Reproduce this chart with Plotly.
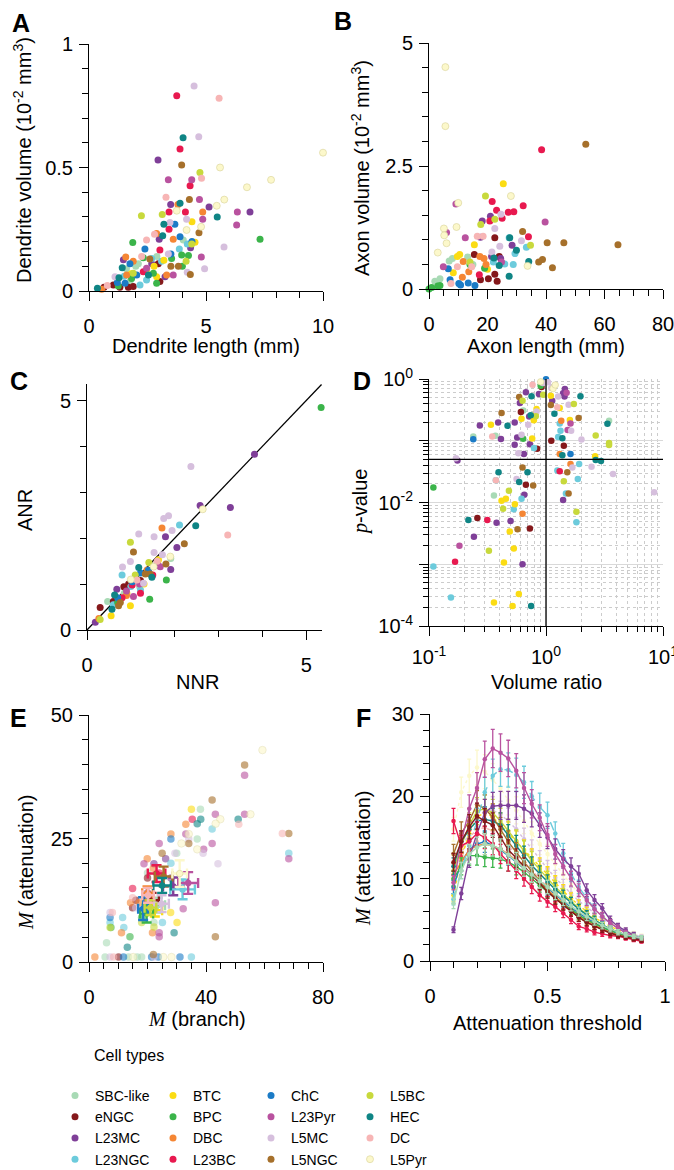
import plotly.graph_objects as go

W, H = 674, 1170
FONT = "Liberation Sans, Arial, Helvetica, sans-serif"
SERIF = "Liberation Serif, Times New Roman, serif"

# ---------------- cell types (legend order, column-major) ----------------
TYPES = ["SBC-like", "eNGC", "L23MC", "L23NGC",
         "BTC", "BPC", "DBC", "L23BC",
         "ChC", "L23Pyr", "L5MC", "L5NGC",
         "L5BC", "HEC", "DC", "L5Pyr"]
COLORS = {"SBC-like": "#a8dab5", "eNGC": "#85181b", "L23MC": "#7f3f98", "L23NGC": "#6ccbdc",
          "BTC": "#fbdc13", "BPC": "#3bb44a", "DBC": "#f58634", "L23BC": "#e8194f",
          "ChC": "#1b7bc6", "L23Pyr": "#b9529f", "L5MC": "#d6bfdd", "L5NGC": "#a6702b",
          "L5BC": "#c8d93c", "HEC": "#0f8585", "DC": "#f7b5b5", "L5Pyr": "#fcf8cb"}

# ---------------- Panel A: dendrite length (mm) vs dendrite volume ----------------
A_PTS = {
    "SBC-like": [(2.0, 0.10), (1.75, 0.038), (2.11, 0.11), (4.03, 0.206), (2.9, 0.14), (1.6, 0.09)],
    "eNGC": [(0.64, 0.015), (1.04, 0.024), (1.68, 0.015), (1.89, 0.018), (1.32, 0.015), (3.03, 0.038), (2.96, 0.11)],
    "L23MC": [(2.95, 0.53), (3.49, 0.35), (5.13, 0.34), (6.88, 0.32), (3.0, 0.21), (4.34, 0.175), (1.47, 0.127), (2.68, 0.11), (3.25, 0.058)],
    "L23NGC": [(3.86, 0.17), (2.46, 0.045), (2.18, 0.024), (2.68, 0.132), (4.2, 0.19), (1.5, 0.06), (3.1, 0.12)],
    "BTC": [(4.53, 0.197), (2.78, 0.10), (3.2, 0.125), (2.89, 0.058), (2.46, 0.085), (4.4, 0.28), (1.8, 0.07)],
    "BPC": [(1.87, 0.196), (7.31, 0.21), (3.53, 0.132), (4.25, 0.144), (3.99, 0.10), (2.32, 0.135), (2.75, 0.072), (2.89, 0.031), (1.25, 0.02), (1.82, 0.051), (3.96, 0.146)],
    "DBC": [(4.86, 0.32), (2.89, 0.233), (3.6, 0.21), (1.57, 0.138), (1.89, 0.12), (0.54, 0.007), (1.61, 0.065), (3.32, 0.065), (3.8, 0.35)],
    "L23BC": [(3.75, 0.79), (3.89, 0.575), (4.32, 0.426), (3.42, 0.32), (4.12, 0.32), (3.42, 0.25), (2.32, 0.078), (3.03, 0.166)],
    "ChC": [(3.67, 0.27), (3.89, 0.22), (4.4, 0.20), (2.39, 0.17), (1.75, 0.11), (2.04, 0.065), (1.21, 0.034), (1.54, 0.031), (3.5, 0.15)],
    "L23Pyr": [(3.39, 0.45), (4.39, 0.45), (4.72, 0.37), (4.86, 0.29), (6.34, 0.32), (6.31, 0.267), (4.8, 0.138), (2.46, 0.092), (3.6, 0.065)],
    "L5MC": [(4.49, 0.83), (4.69, 0.625), (3.46, 0.277), (4.17, 0.29), (5.77, 0.178), (4.94, 0.09), (4.2, 0.076), (3.39, 0.15), (1.11, 0.058)],
    "L5NGC": [(3.96, 0.51), (4.29, 0.37), (4.7, 0.236), (3.82, 0.10), (3.5, 0.10), (4.33, 0.067), (2.6, 0.13)],
    "L5BC": [(4.74, 0.48), (2.24, 0.305), (3.13, 0.31), (4.15, 0.12), (1.89, 0.072), (4.39, 0.19)],
    "HEC": [(4.02, 0.62), (3.89, 0.355), (5.48, 0.30), (3.2, 0.27), (3.15, 0.224), (1.42, 0.094), (2.54, 0.065), (0.36, 0.011), (1.28, 0.054)],
    "DC": [(5.56, 0.78), (4.81, 0.456), (3.29, 0.38), (2.46, 0.206), (2.25, 0.14), (0.78, 0.022), (2.8, 0.23)],
    "L5Pyr": [(10.0, 0.56), (5.6, 0.50), (7.78, 0.45), (6.75, 0.42), (5.46, 0.345), (5.78, 0.37), (3.75, 0.325), (4.79, 0.26), (4.17, 0.247)],
}

# ---------------- Panel B: axon length (mm) vs axon volume ----------------
B_PTS = {
    "SBC-like": [(6.9, 0.57), (13.2, 0.65), (2.0, 0.16), (3.75, 0.21), (8.0, 0.62), (15.0, 0.5)],
    "eNGC": [(22.5, 1.04), (15.5, 0.70), (17.6, 0.19), (20.3, 0.21), (23.3, 0.16), (22.5, 0.30), (24.0, 0.66)],
    "L23MC": [(21.0, 1.48), (18.2, 1.38), (28.4, 0.89), (21.4, 0.66), (17.6, 1.05), (24.5, 0.62)],
    "L23NGC": [(27.4, 1.04), (33.3, 0.85), (29.4, 0.72), (28.8, 0.50), (25.9, 0.51), (22.0, 0.55)],
    "BTC": [(25.4, 2.14), (15.5, 0.90), (9.7, 0.66), (8.3, 0.33), (10.5, 0.70), (20.0, 0.40)],
    "BPC": [(3.0, 0.06), (0.0, 0.0), (0.9, 0.03), (3.75, 0.07), (19.0, 0.42), (14.0, 0.5)],
    "DBC": [(17.4, 0.66), (18.8, 0.62), (11.7, 0.56), (11.4, 0.24), (19.5, 0.5), (13.6, 0.35)],
    "L23BC": [(38.5, 2.83), (21.6, 1.78), (32.2, 1.69), (23.1, 1.6), (27.1, 1.56), (29.0, 1.57), (25.0, 1.44), (20.8, 1.38), (34.0, 1.06), (17.2, 0.29)],
    "ChC": [(6.6, 0.41), (10.2, 0.11), (13.4, 0.12), (15.7, 0.07), (7.2, 0.19), (10.8, 0.08)],
    "L23Pyr": [(9.2, 1.73), (39.7, 1.36), (6.0, 1.15), (12.4, 1.04), (4.9, 0.45), (24.8, 0.55)],
    "L5MC": [(24.6, 1.52), (22.5, 1.23), (31.6, 0.98), (24.2, 0.87), (21.5, 0.75)],
    "L5NGC": [(53.6, 2.94), (32.0, 1.17), (40.4, 0.94), (46.1, 0.94), (64.6, 0.90), (38.8, 0.60), (37.5, 0.55), (42.2, 0.43)],
    "L5BC": [(19.3, 1.89), (22.5, 1.42), (17.7, 1.31), (34.7, 0.89), (14.0, 0.55)],
    "HEC": [(27.6, 1.04), (29.9, 0.79), (34.1, 0.56), (22.2, 0.63), (27.4, 0.26), (24.0, 0.48)],
    "DC": [(16.5, 1.07), (18.5, 1.07), (9.7, 0.45), (14.6, 0.45), (7.5, 0.11)],
    "L5Pyr": [(5.6, 4.51), (5.6, 3.31), (28.0, 1.89), (10.0, 1.75), (5.1, 1.23), (9.4, 1.26), (5.2, 1.09), (6.0, 0.93), (3.0, 0.74), (33.7, 0.47)],
}

# ---------------- Panel C: NNR vs ANR ----------------
C_PTS = {
    "SBC-like": [(1.91, 1.56), (0.47, 0.62), (1.2, 0.95), (0.85, 0.8)],
    "eNGC": [(1.22, 1.08), (0.84, 0.94), (0.30, 0.49), (0.95, 1.0), (0.6, 0.62)],
    "L23MC": [(3.82, 3.83), (2.58, 2.71), (3.27, 2.67), (1.79, 2.03), (2.05, 1.80), (1.91, 1.32), (0.68, 0.89), (0.19, 0.17), (1.6, 1.45)],
    "L23NGC": [(2.11, 2.29), (0.80, 1.20), (1.22, 0.87), (1.0, 0.95), (0.6, 0.55)],
    "BTC": [(1.63, 1.53), (0.99, 0.53), (0.55, 0.31), (0.91, 0.8), (1.3, 1.0)],
    "BPC": [(5.34, 4.85), (1.81, 1.09), (1.43, 0.67), (0.7, 0.6)],
    "DBC": [(1.71, 2.22), (0.27, 0.25), (1.37, 1.31), (0.9, 0.75)],
    "L23BC": [(1.03, 0.98), (1.22, 0.8), (0.8, 0.7), (1.5, 1.2)],
    "ChC": [(1.03, 1.05), (1.22, 1.24), (0.7, 0.7), (1.4, 1.3)],
    "L23Pyr": [(1.06, 0.73), (1.67, 1.38), (1.2, 1.0), (0.9, 0.85)],
    "L5MC": [(2.37, 3.56), (1.86, 2.49), (1.75, 2.43), (1.18, 2.09), (1.53, 2.03), (1.94, 2.17), (1.53, 1.69), (1.72, 1.64), (0.99, 1.49), (0.81, 1.37), (1.29, 1.02)],
    "L5NGC": [(2.22, 1.88), (1.06, 1.70), (1.80, 1.44), (1.33, 1.22), (1.44, 1.22), (0.76, 0.6), (0.72, 0.53)],
    "L5BC": [(0.99, 1.91), (1.41, 1.47), (0.30, 0.23), (1.1, 1.2)],
    "HEC": [(2.48, 2.27), (1.18, 1.36), (1.48, 1.15), (0.63, 0.76), (0.57, 0.45)],
    "DC": [(3.21, 2.07), (1.14, 1.09), (1.6, 1.5)],
    "L5Pyr": [(2.64, 2.63), (1.52, 1.38), (1.9, 1.6), (1.0, 1.1)],
}
IDENTITY_LINE = [0, 5.35]

# ---------------- Panel D: volume ratio vs p-value ----------------
D_PTS = {
    "SBC-like": [(0.37, 0.12), (0.359, 0.013), (0.64, 0.31), (3.46, 0.21), (0.239, 0.117)],
    "eNGC": [(0.259, 0.0056), (0.728, 0.0038), (0.673, 0.0193), (0.61, 0.292), (0.84, 0.074), (0.916, 0.741), (1.11, 0.1), (1.42, 0.083)],
    "L23MC": [(0.175, 0.048), (0.242, 0.0028), (0.378, 0.0047), (0.498, 0.005), (0.63, 0.001), (0.652, 0.0133), (0.412, 0.107), (0.272, 0.177), (0.39, 0.198), (0.54, 0.198), (0.567, 0.113), (0.54, 0.086), (0.728, 0.088), (0.647, 0.061), (0.718, 0.248), (0.598, 0.408), (0.673, 0.608), (0.87, 0.571), (1.13, 0.445), (1.4, 0.59), (1.45, 0.69), (1.44, 0.52), (1.4, 0.011)],
    "L23NGC": [(0.109, 0.00092), (0.154, 0.00029), (0.53, 0.0078), (0.618, 0.0115), (0.373, 0.023), (0.79, 0.076), (1.31, 0.19), (1.33, 0.145), (1.27, 0.115), (1.92, 0.042), (1.25, 0.033), (1.87, 0.024), (1.48, 0.014), (1.82, 0.0048)],
    "BTC": [(0.359, 0.00024), (0.437, 0.00107), (0.518, 0.00021), (0.586, 0.00033), (0.531, 0.0018), (0.49, 0.0034), (0.417, 0.0107), (0.454, 0.0115), (0.542, 0.0094), (0.338, 0.182), (0.618, 0.227), (0.762, 0.109), (0.787, 0.214), (0.818, 0.274), (0.83, 0.326), (1.1, 0.537), (1.31, 0.339), (1.6, 0.216), (2.63, 0.056)],
    "BPC": [(0.109, 0.0175), (0.638, 0.108), (0.9, 0.78)],
    "DBC": [(0.63, 0.0066), (1.35, 0.21), (1.62, 0.042), (1.31, 0.061)],
    "L23BC": [(0.167, 0.0011), (0.315, 0.0052), (1.31, 0.032)],
    "ChC": [(0.239, 0.106), (1.0, 0.99), (1.62, 0.061)],
    "L23Pyr": [(0.182, 0.002), (1.62, 0.19), (1.53, 0.15), (1.5, 0.6)],
    "L5MC": [(8.4, 0.0147), (0.17, 0.052), (0.56, 0.024), (0.618, 0.125), (0.58, 0.063), (0.705, 0.182), (0.83, 0.299), (0.94, 0.86), (1.04, 0.89), (1.11, 0.715), (1.27, 0.52), (1.56, 0.384), (1.64, 0.145), (2.01, 0.105), (1.68, 0.037), (2.45, 0.038), (3.74, 0.029)],
    "L5NGC": [(0.571, 0.0037), (0.777, 0.0189), (0.63, 0.037), (0.417, 0.281), (0.59, 0.51), (1.1, 0.38), (1.9, 0.233), (1.52, 0.031), (1.56, 0.014)],
    "L5BC": [(0.325, 0.00165), (0.43, 0.0079), (0.482, 0.0155), (0.63, 0.446), (0.818, 0.25), (0.946, 0.557), (1.73, 0.394), (2.66, 0.122), (3.46, 0.092), (3.46, 0.085), (1.42, 0.022), (1.82, 0.0071)],
    "HEC": [(0.217, 0.0052), (0.746, 0.00021), (0.393, 0.031), (0.59, 0.0214), (0.695, 0.031), (0.469, 0.175), (0.74, 0.26), (0.752, 0.524), (1.18, 0.274), (1.97, 0.524), (3.35, 0.189), (1.38, 0.11), (1.38, 0.058), (2.66, 0.049), (2.95, 0.047)],
    "DC": [(0.347, 0.117), (0.373, 0.023), (0.767, 0.81), (1.25, 0.35)],
    "L5Pyr": [(0.9, 0.9), (1.15, 0.7), (1.2, 0.8)],
}
P_THRESHOLD = 0.05
RATIO_EQUAL = 1.0

# ---------------- Panel E: M(branch) vs M(attenuation) ----------------
E_PTS = {
    "SBC-like": [(38.1, 30.9), (37.0, 24.9), (6.0, 3.9), (22.2, 8.0), (5.5, 1), (13.5, 1), (16.5, 1), (18.0, 1), (20.0, 18.0), (30.0, 22.0)],
    "eNGC": [(14.9, 11.0), (10.1, 1), (20.0, 17.0), (16.0, 12.5)],
    "L23MC": [(26.2, 20.9), (22.2, 19.9), (28.0, 17.0), (20.0, 14.0)],
    "L23NGC": [(42.1, 26.9), (68.3, 22.0), (25.1, 8.0), (7.2, 8.0), (11.5, 9.0), (11.9, 7.0), (35.0, 1), (28.0, 20.0)],
    "BTC": [(35.0, 30.9), (27.9, 10.0), (30.1, 8.0), (20.0, 12.0)],
    "BPC": [(14.0, 5.1), (7.5, 7.0), (18.0, 9.0)],
    "DBC": [(33.1, 27.9), (28.0, 25.9), (19.9, 20.9), (21.7, 5.9), (11.1, 5.9), (14.2, 12.0), (17.1, 12.0), (2.0, 1), (22.0, 19.0)],
    "L23BC": [(35.3, 28.9), (14.9, 14.9), (24.0, 18.0)],
    "ChC": [(28.0, 24.9), (11.8, 1), (21.4, 1), (23.7, 1), (31.1, 1), (7.2, 9.0)],
    "L23Pyr": [(53.2, 37.8), (43.2, 29.9), (53.2, 29.9), (68.3, 20.9), (42.1, 24.0), (43.2, 12.0), (33.1, 25.9), (24.0, 24.0), (39.2, 22.8), (18.8, 19.9), (32.2, 10.8), (24.0, 5.9), (24.0, 5.1)],
    "L5MC": [(44.1, 19.9), (34.1, 24.9), (39.0, 22.0), (29.4, 22.0), (7.2, 10.0), (7.2, 1), (22.2, 1), (16.0, 11.0)],
    "L5NGC": [(53.2, 39.9), (42.1, 32.8), (68.3, 26.0), (43.2, 5.1), (34.1, 24.0), (25.0, 22.0), (22.0, 1.5)],
    "L5BC": [(22.2, 7.1), (7.2, 7.0), (18.0, 8.0)],
    "HEC": [(51.0, 28.9), (38.2, 28.9), (37.0, 28.0), (29.1, 5.9), (13.1, 3.0)],
    "DC": [(51.2, 27.9), (66.1, 26.0), (14.9, 13.0), (8.4, 1), (8.0, 10.0)],
    "L5Pyr": [(59.3, 42.9), (55.2, 29.9), (44.9, 28.9), (43.3, 28.0), (34.1, 25.9), (31.6, 24.0), (37.0, 22.8), (15.1, 1), (25.4, 1), (28.2, 1)],
}
# type means (x, y) and SEM (x, y)
E_MEAN = {"SBC-like": (23.5, 11.5), "eNGC": (21.4, 12.5), "L23MC": (28.8, 15.3), "L23NGC": (32.0, 14.7),
          "BTC": (22.5, 10.5), "BPC": (19.7, 9.8), "DBC": (20.0, 13.9), "L23BC": (23.1, 17.9),
          "ChC": (18.5, 10.8), "L23Pyr": (33.9, 16.0), "L5MC": (24.8, 11.8), "L5NGC": (25.5, 17.3),
          "L5BC": (21.0, 11.0), "HEC": (25.0, 15.5), "DC": (20.2, 13.5), "L5Pyr": (31.0, 17.9)}
E_SEM = {"SBC-like": (2.5, 1.5), "eNGC": (2.5, 1.5), "L23MC": (3.5, 1.8), "L23NGC": (4.2, 2.0),
         "BTC": (2.5, 1.3), "BPC": (2.2, 1.8), "DBC": (1.8, 1.4), "L23BC": (3.0, 1.7),
         "ChC": (1.7, 2.3), "L23Pyr": (3.4, 2.2), "L5MC": (2.5, 1.7), "L5NGC": (3.0, 2.0),
         "L5BC": (2.0, 1.5), "HEC": (3.0, 1.5), "DC": (2.0, 1.5), "L5Pyr": (2.5, 2.7)}

# ---------------- Panel F: attenuation threshold vs M(attenuation) ----------------
THRESH = [0.1, 0.133, 0.167, 0.2, 0.233, 0.267, 0.3, 0.333, 0.367, 0.4, 0.433, 0.467, 0.5,
          0.533, 0.567, 0.6, 0.633, 0.667, 0.7, 0.733, 0.767, 0.8, 0.833, 0.867, 0.9]
F_M = {
    "L5Pyr": [16.0, 20.5, 22.5, 23.5, 23.0, 22.0, 21.0, 19.5, 18.3, 17.0, 15.5, 14.2, 13.0, 11.8, 10.5, 9.3, 8.2, 7.2, 6.3, 5.5, 4.8, 4.2, 3.7, 3.3, 3.0],
    "L5MC": [9.0, 13.0, 16.0, 18.0, 18.5, 18.3, 17.8, 17.0, 16.0, 14.8, 13.5, 12.3, 11.2, 10.1, 9.1, 8.2, 7.3, 6.5, 5.8, 5.1, 4.5, 4.0, 3.6, 3.2, 2.9],
    "DC": [10.0, 13.0, 15.0, 16.0, 16.2, 15.8, 15.0, 14.0, 13.0, 12.0, 11.0, 10.0, 9.0, 8.1, 7.3, 6.5, 5.8, 5.1, 4.5, 4.0, 3.6, 3.3, 3.0, 2.8, 2.6],
    "BTC": [8.0, 12.5, 15.5, 17.5, 18.0, 17.5, 16.5, 15.5, 14.5, 13.5, 12.5, 11.5, 10.5, 9.5, 8.5, 7.6, 6.8, 6.0, 5.3, 4.7, 4.2, 3.8, 3.4, 3.1, 2.8],
    "L5BC": [11.0, 14.0, 16.5, 18.2, 18.5, 18.0, 17.0, 15.8, 14.6, 13.4, 12.2, 11.1, 10.0, 9.0, 8.1, 7.2, 6.4, 5.7, 5.0, 4.4, 3.9, 3.5, 3.2, 2.9, 2.7],
    "ChC": [9.0, 12.0, 13.5, 14.2, 14.5, 14.0, 13.5, 12.8, 12.0, 11.2, 10.4, 9.6, 8.8, 8.0, 7.2, 6.5, 5.8, 5.2, 4.6, 4.1, 3.7, 3.3, 3.0, 2.8, 2.6],
    "DBC": [10.5, 12.0, 13.5, 14.0, 14.2, 14.0, 13.6, 13.0, 12.2, 11.3, 10.4, 9.5, 8.6, 7.8, 7.0, 6.2, 5.5, 4.9, 4.4, 3.9, 3.5, 3.2, 2.9, 2.7, 2.5],
    "BPC": [10.0, 11.5, 12.8, 12.8, 12.6, 12.5, 12.4, 12.0, 11.5, 10.8, 10.0, 9.2, 8.4, 7.6, 6.9, 6.2, 5.6, 5.0, 4.5, 4.1, 3.7, 3.4, 3.1, 2.9, 2.7],
    "HEC": [11.5, 14.5, 16.0, 17.0, 17.2, 17.0, 16.5, 15.2, 14.0, 12.8, 11.6, 10.6, 9.6, 8.7, 7.9, 7.1, 6.3, 5.6, 5.0, 4.4, 3.9, 3.5, 3.2, 2.9, 2.7],
    "L5NGC": [13.0, 15.5, 17.0, 19.0, 18.5, 17.5, 16.0, 14.5, 13.2, 12.0, 10.8, 9.7, 8.6, 7.6, 6.8, 6.0, 5.3, 4.7, 4.2, 3.8, 3.4, 3.1, 2.9, 2.7, 2.5],
    "L23NGC": [7.5, 11.0, 14.0, 17.0, 20.5, 22.5, 23.3, 23.2, 22.6, 21.7, 20.0, 18.7, 17.7, 15.5, 13.1, 10.6, 9.0, 7.6, 6.4, 5.4, 4.6, 4.0, 3.5, 3.1, 2.8],
    "L23MC": [3.8, 8.2, 12.5, 15.5, 18.0, 18.8, 18.9, 18.9, 18.9, 18.5, 17.9, 16.5, 15.0, 13.6, 12.4, 11.5, 10.6, 8.6, 7.4, 6.4, 5.0, 4.2, 3.7, 3.2, 2.6],
    "L23Pyr": [9.5, 14.5, 18.5, 21.0, 24.5, 25.8, 25.3, 24.6, 23.1, 21.0, 19.1, 17.4, 15.3, 13.0, 11.5, 10.0, 8.6, 7.4, 6.3, 5.4, 4.6, 4.0, 3.4, 3.0, 2.7],
    "L23BC": [17.0, 14.0, 14.5, 15.5, 15.0, 14.2, 13.0, 12.0, 11.0, 10.0, 9.0, 8.0, 7.2, 6.6, 5.8, 5.0, 4.2, 3.9, 3.5, 3.3, 3.1, 3.0, 2.8, 2.6, 2.4],
    "eNGC": [12.0, 14.5, 16.3, 17.6, 17.0, 16.5, 15.0, 13.5, 12.5, 11.5, 10.5, 9.5, 8.4, 7.6, 6.8, 6.0, 5.3, 4.7, 4.2, 3.8, 3.4, 3.1, 2.9, 2.7, 2.5],
    "SBC-like": [7.0, 11.0, 13.0, 13.8, 14.2, 14.0, 13.6, 12.9, 12.1, 11.3, 10.5, 9.7, 9.0, 8.2, 7.4, 6.7, 6.0, 5.4, 4.8, 4.3, 3.9, 3.5, 3.2, 3.0, 2.8],
}
F_ERR_PCT = 9
F_DASH = {"L23NGC": "dash", "L5Pyr": "dot", "BTC": "dot", "L5MC": "dot", "DC": "dot"}

# =====================================================================
def xp(px):
    return px / W


def yp(py):
    return 1 - py / H


def mk(t, size=7, opacity=1.0):
    return dict(size=size, color=COLORS[t], opacity=opacity,
                line=dict(width=0.7 if t == "L5Pyr" else 0, color="#dcd7a0"))


LEGS = ["legend", "legend2", "legend3", "legend4"]
fig = go.Figure()

# Panel A (legend source)
for i, t in enumerate(TYPES):
    pts = A_PTS[t]
    fig.add_trace(go.Scatter(x=[p[0] for p in pts], y=[p[1] for p in pts], mode="markers",
                             marker=mk(t), name=t, legend=LEGS[i // 4], legendgroup=t,
                             showlegend=True, xaxis="x", yaxis="y", cliponaxis=False))

# Panel B
for t in TYPES:
    pts = B_PTS[t]
    fig.add_trace(go.Scatter(x=[p[0] for p in pts], y=[p[1] for p in pts], mode="markers",
                             marker=mk(t), name=t, legendgroup=t, showlegend=False,
                             xaxis="x2", yaxis="y2", cliponaxis=False))

# Panel C
fig.add_trace(go.Scatter(x=IDENTITY_LINE, y=IDENTITY_LINE, mode="lines",
                         line=dict(color="black", width=1.3), showlegend=False,
                         xaxis="x3", yaxis="y3", cliponaxis=False, hoverinfo="skip"))
for t in TYPES:
    pts = C_PTS[t]
    fig.add_trace(go.Scatter(x=[p[0] for p in pts], y=[p[1] for p in pts], mode="markers",
                             marker=mk(t), name=t, legendgroup=t, showlegend=False,
                             xaxis="x3", yaxis="y3", cliponaxis=False))

# Panel D
for t in TYPES:
    pts = D_PTS[t]
    fig.add_trace(go.Scatter(x=[p[0] for p in pts], y=[p[1] for p in pts], mode="markers",
                             marker=mk(t, size=6.5), name=t, legendgroup=t, showlegend=False,
                             xaxis="x4", yaxis="y4", cliponaxis=False))
fig.add_trace(go.Scatter(x=[0.1, 10], y=[P_THRESHOLD, P_THRESHOLD], mode="lines",
                         line=dict(color="black", width=1.3), showlegend=False,
                         xaxis="x4", yaxis="y4", hoverinfo="skip"))
fig.add_trace(go.Scatter(x=[RATIO_EQUAL, RATIO_EQUAL], y=[1e-4, 1], mode="lines",
                         line=dict(color="black", width=1.3), showlegend=False,
                         xaxis="x4", yaxis="y4", hoverinfo="skip"))

# Panel E
for t in TYPES:
    pts = E_PTS[t]
    fig.add_trace(go.Scatter(x=[p[0] for p in pts], y=[p[1] for p in pts], mode="markers",
                             marker=mk(t, size=7.5, opacity=0.6), name=t, legendgroup=t,
                             showlegend=False, xaxis="x5", yaxis="y5", cliponaxis=False))
for t in TYPES:
    mx, my = E_MEAN[t]
    sx, sy = E_SEM[t]
    fig.add_trace(go.Scatter(x=[mx], y=[my], mode="markers", marker=mk(t, size=6.5),
                             error_x=dict(type="data", array=[sx], color=COLORS[t], thickness=2.4, width=5),
                             error_y=dict(type="data", array=[sy], color=COLORS[t], thickness=2.4, width=5),
                             name=t, legendgroup=t, showlegend=False, xaxis="x5", yaxis="y5"))

# Panel F
for t in F_M:
    fig.add_trace(go.Scatter(x=THRESH, y=F_M[t], mode="lines+markers",
                             line=dict(color=COLORS[t], width=1.4, dash=F_DASH.get(t, "solid")),
                             marker=dict(size=4.5, color=COLORS[t]),
                             error_y=dict(type="percent", value=F_ERR_PCT, color=COLORS[t], thickness=1.3, width=2),
                             name=t, legendgroup=t, showlegend=False, xaxis="x6", yaxis="y6"))

# ---------------- axes ----------------
TICKFONT = dict(family=FONT, size=20, color="black")


def lin_axis(dom, rng, dtick, minor, anchor, is_x, major_len=9, minor_len=6):
    d = dict(domain=dom, range=rng, dtick=dtick, tick0=0, anchor=anchor, automargin=False,
             showline=True, linecolor="black", linewidth=1, ticks="outside",
             ticklen=major_len, tickwidth=1, tickcolor="black", showgrid=False,
             zeroline=False, tickfont=TICKFONT, fixedrange=True, ticklabeloverflow="allow",
             minor=dict(dtick=minor, tick0=0, ticks="outside", ticklen=minor_len,
                        tickwidth=1, tickcolor="black", showgrid=False))
    d["ticklabelstandoff"] = 8 if is_x else 2
    return d


def xd(a, b):
    return [xp(a), xp(b)]


def yd(top, bottom):
    return [yp(bottom), yp(top)]


lay = {}
lay["xaxis"] = lin_axis(xd(89, 323), [0, 10], 5, 1, "y", True)
lay["yaxis"] = lin_axis(yd(44, 291), [0, 1], 0.5, 0.1, "x", False)
lay["xaxis2"] = lin_axis(xd(429, 663), [0, 80], 20, 5, "y2", True)
lay["yaxis2"] = lin_axis(yd(43, 289), [0, 5], 2.5, 0.5, "x2", False)
lay["xaxis3"] = lin_axis(xd(87, 322), [0, 5.36], 5, 1, "y3", True)
lay["yaxis3"] = lin_axis(yd(384, 630), [0, 5.36], 5, 1, "x3", False)
lay["xaxis5"] = lin_axis(xd(89, 323), [0, 80], 40, 5, "y5", True)
lay["yaxis5"] = lin_axis(yd(715, 962), [0, 50], 25, 5, "x5", False)
lay["xaxis6"] = lin_axis(xd(430, 665), [0, 1], 0.5, 0.1, "y6", True)
lay["yaxis6"] = lin_axis(yd(714, 961), [0, 30], 10, 2, "x6", False)

minor_y = [m * 10 ** e for e in range(-4, 0) for m in range(2, 10)]
minor_x = [m * 10 ** e for e in range(-1, 1) for m in range(2, 10)]
log_common = dict(type="log", showline=True, linecolor="black", linewidth=1, ticks="outside",
                  ticklen=9, tickwidth=1, tickcolor="black", showgrid=True, gridcolor="#d9d9d9",
                  gridwidth=1, zeroline=False, tickfont=TICKFONT, fixedrange=True, automargin=False,
                  ticklabeloverflow="allow")
lay["xaxis4"] = dict(domain=xd(429, 663), range=[-1, 1], anchor="y4", tickmode="array",
                     tickvals=[0.1, 1, 10], ticktext=["10<sup>-1</sup>", "10<sup>0</sup>", "10<sup>1</sup>"],
                     ticklabelstandoff=4,
                     minor=dict(tickmode="array", tickvals=minor_x, ticks="outside", ticklen=5,
                                tickcolor="black", showgrid=True, griddash="dot", gridcolor="#cccccc", gridwidth=1),
                     **log_common)
lay["yaxis4"] = dict(domain=yd(379, 626), range=[-4, 0], anchor="x4", tickmode="array",
                     tickvals=[1e-4, 1e-3, 1e-2, 1e-1, 1],
                     ticktext=["10<sup>-4</sup>", " ", "10<sup>-2</sup>", " ", "10<sup>0</sup>"],
                     ticklabelstandoff=2,
                     minor=dict(tickmode="array", tickvals=minor_y, ticks="outside", ticklen=5,
                                tickcolor="black", showgrid=True, griddash="dot", gridcolor="#cccccc", gridwidth=1),
                     **log_common)

# ---------------- annotations ----------------
ann = []
M_IT = '<span style="font-family:Liberation Serif"><i>M</i></span>'
P_IT = '<span style="font-family:Liberation Serif"><i>p</i></span>'


def text(s, x, y, size=20, angle=0, bold=False, xanchor="center"):
    ann.append(dict(text=("<b>%s</b>" % s) if bold else s, x=xp(x), y=yp(y), xref="paper",
                    yref="paper", showarrow=False, textangle=angle, xanchor=xanchor,
                    yanchor="middle", font=dict(family=FONT, size=size, color="black")))


for letter, (lx, ly) in {"A": (21, 23), "B": (343, 21), "C": (19, 381), "D": (362, 381),
                          "E": (18, 718), "F": (363, 718)}.items():
    text(letter, lx, ly, size=25, bold=True)

text("Dendrite length (mm)", 206, 346)
text("Axon length (mm)", 546, 346)
text("NNR", 197, 682)
text("Volume ratio", 546, 682)
text(M_IT + " (branch)", 197, 1019)
text("Attenuation threshold", 547, 1023)
text("Dendrite volume (10<sup>-2</sup> mm<sup>3</sup>)", 23, 160, angle=-90)
text("Axon volume (10<sup>-2</sup> mm<sup>3</sup>)", 361, 168, angle=-90)
text("ANR", 25, 510, angle=-90)
text(P_IT + "-value", 360, 502, angle=-90)
text(M_IT + " (attenuation)", 26, 862, angle=-90)
text(M_IT + " (attenuation)", 363, 858, angle=-90)
text("Cell types", 92, 1055, size=16, xanchor="left")

legend_common = dict(xanchor="left", yanchor="top", orientation="v", bgcolor="rgba(0,0,0,0)",
                     font=dict(family=FONT, size=14, color="black"), itemwidth=30,
                     tracegroupgap=0, itemclick=False, itemdoubleclick=False, y=yp(1080))
for k, lx in zip(LEGS, [55, 153, 251, 350]):
    lay[k] = dict(x=xp(lx), **legend_common)

fig.update_layout(template="none", width=W, height=H,
                  margin=dict(l=0, r=0, t=0, b=0, pad=0, autoexpand=False),
                  paper_bgcolor="white", plot_bgcolor="white", showlegend=True,
                  font=dict(family=FONT, color="black"), annotations=ann, **lay)

fig.write_html("out.html")
